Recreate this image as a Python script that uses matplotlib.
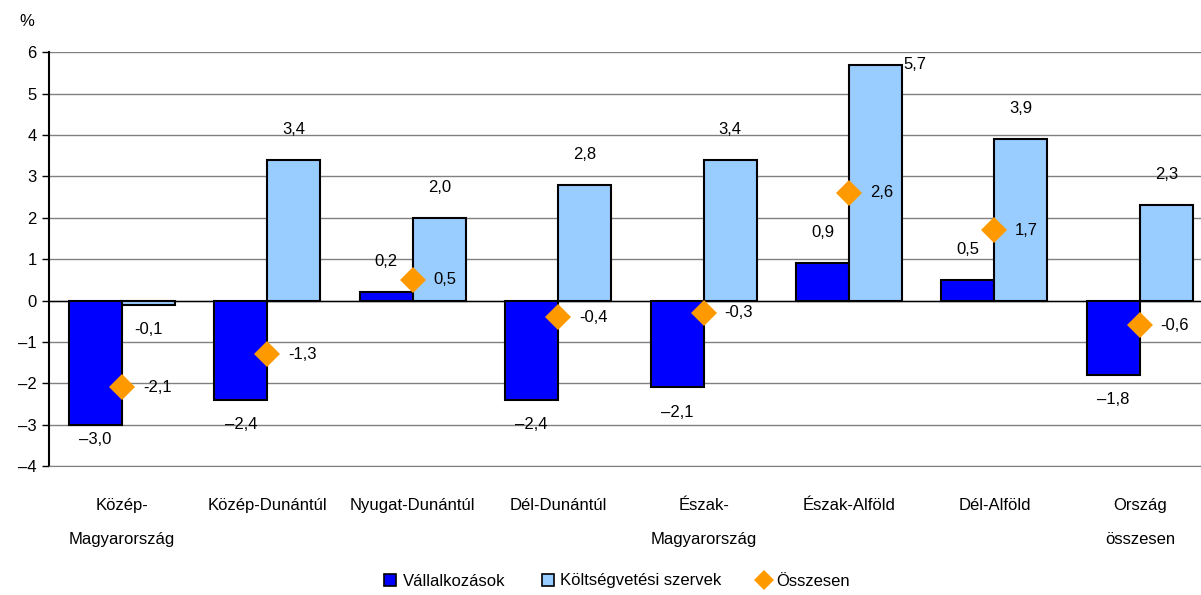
import matplotlib
matplotlib.use("Agg")
import matplotlib.pyplot as plt
import numpy as np
from matplotlib.patches import Patch
from matplotlib.lines import Line2D

plt.rcParams['font.family'] = ['Liberation Sans', 'DejaVu Sans']

categories = ["Közép-\nMagyarország", "Közép-Dunántúl", "Nyugat-Dunántúl", "Dél-Dunántúl",
              "Észak-\nMagyarország", "Észak-Alföld", "Dél-Alföld", "Ország\nösszesen"]
vallalkozasok = [-3.0, -2.4, 0.2, -2.4, -2.1, 0.9, 0.5, -1.8]
koltsegvetesi = [-0.1, 3.4, 2.0, 2.8, 3.4, 5.7, 3.9, 2.3]
osszesen = [-2.1, -1.3, 0.5, -0.4, -0.3, 2.6, 1.7, -0.6]
yticks = [-4, -3, -2, -1, 0, 1, 2, 3, 4, 5, 6]

dark = "#0000FF"
light = "#99CCFF"
orange = "#FF9900"
FS = 12

fig = plt.figure(figsize=(12.01, 5.95), dpi=100)
ax = fig.add_axes([0.041, 0.2168, 0.9686, 0.6953])

x = np.arange(len(categories))
w = 0.364
ax.bar(x - w / 2, vallalkozasok, w, color=dark, edgecolor="black", linewidth=1.5, zorder=3)
ax.bar(x + w / 2, koltsegvetesi, w, color=light, edgecolor="black", linewidth=1.5, zorder=3)
ax.plot(x, osszesen, linestyle="none", marker="D", markersize=13, color=orange,
        markeredgewidth=0, zorder=5)

ax.set_xlim(-0.5, len(categories) - 0.5)
ax.set_ylim(-4, 6)
ax.set_yticks(yticks)
ax.set_yticklabels([("\u2013" + str(-t)) if t < 0 else str(t) for t in yticks], fontsize=FS)
ax.yaxis.grid(True, color="#808080", linewidth=1, zorder=0)
ax.axhline(0, color="black", linewidth=1, zorder=2)
ax.set_axisbelow(True)
for s in ["top", "right"]:
    ax.spines[s].set_visible(False)
ax.spines["bottom"].set_color("#808080")
ax.spines["left"].set_linewidth(1.5)
ax.tick_params(axis="y", length=5, width=1, pad=4)
ax.tick_params(axis="x", length=0, pad=23)
ax.set_xticks(x)
ax.set_xticklabels(categories, fontsize=FS, linespacing=2.6)

def fmt(v, dash="-"):
    s = f"{abs(v):.1f}".replace(".", ",")
    return (dash + s) if v < 0 else s

# value labels for Vállalkozások
for xi, v in zip(x, vallalkozasok):
    if v >= 0:
        ax.annotate(fmt(v), (xi - w / 2, v), xytext=(0, 22), textcoords="offset points",
                    ha="center", va="center", fontsize=FS)
    else:
        off = -18 if v > -2.8 else -11
        ax.annotate(fmt(v, "\u2013"), (xi - w / 2, v), xytext=(0, off), textcoords="offset points",
                    ha="center", va="center", fontsize=FS)

# value labels for Költségvetési szervek
for xi, v in zip(x, koltsegvetesi):
    if v >= 0:
        if v + 0.75 > 6:
            ax.annotate(fmt(v), (xi + w, v), xytext=(1, 0), textcoords="offset points",
                        ha="left", va="center", fontsize=FS)
        else:
            ax.annotate(fmt(v), (xi + w / 2, v), xytext=(0, 22), textcoords="offset points",
                        ha="center", va="center", fontsize=FS)
    else:
        ax.annotate(fmt(v), (xi + w / 2, v), xytext=(0, -18), textcoords="offset points",
                    ha="center", va="center", fontsize=FS)

# labels for Összesen
for xi, v in zip(x, osszesen):
    ax.annotate(fmt(v), (xi, v), xytext=(15, 0), textcoords="offset points",
                ha="left", va="center", fontsize=FS)

fig.text(27 / 1201, 1 - 22 / 595, "%", fontsize=FS, ha="center", va="center")

handles = [Patch(facecolor=dark, edgecolor="black", linewidth=1.2),
           Patch(facecolor=light, edgecolor="black", linewidth=1.2),
           Line2D([], [], linestyle="none", marker="D", markersize=10, color=orange, markeredgewidth=0)]
labels = ["Vállalkozások", "Költségvetési szervek", "Összesen"]
fig.legend(handles, labels, loc="center", bbox_to_anchor=(0.514, 1 - 581 / 595), ncol=3,
           frameon=False, fontsize=FS, handlelength=0.7, handleheight=0.7,
           handletextpad=0.4, columnspacing=2.2, borderaxespad=0)

fig.savefig("out.png", dpi=100)
